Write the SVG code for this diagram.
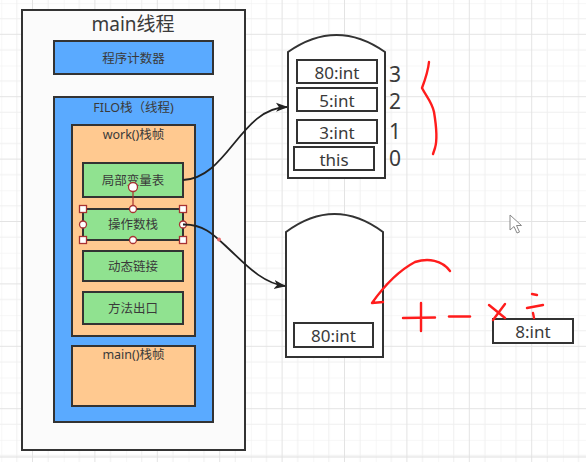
<svg xmlns="http://www.w3.org/2000/svg" width="586" height="462" viewBox="0 0 586 462">
<style>
.t{font-family:"Noto Sans","Noto Sans CJK SC",sans-serif;fill:#3a3a3a;text-anchor:middle;dominant-baseline:central}
.c{font-size:12.5px}
.v{font-size:17px}
.n{font-size:21px}
.box{stroke:#333;stroke-width:2}
.cell{fill:#fff;stroke:#333;stroke-width:2}
.red{fill:none;stroke:#ff1c1c;stroke-width:2.4;stroke-linecap:round;stroke-linejoin:round}
.h{fill:#fff;stroke:#a83232;stroke-width:1.3}
.edge{fill:none;stroke:#222;stroke-width:1.8}
</style>
<defs>
<pattern id="g" patternUnits="userSpaceOnUse" x="1.3" y="3.1" width="62.4" height="62.4">
<path d="M0,0V62.4M15.6,0V62.4M31.2,0V62.4M46.8,0V62.4M0,0H62.4M0,15.6H62.4M0,31.2H62.4M0,46.8H62.4" stroke="#efefef" stroke-width="1" fill="none"/>
<path d="M31.2,0V62.4M0,31.2H62.4" stroke="#e3e3e3" stroke-width="1" fill="none"/>
</pattern>
<marker id="a" viewBox="0 0 12 10" refX="11" refY="5" markerWidth="12" markerHeight="10" markerUnits="userSpaceOnUse" orient="auto">
<path d="M0,0.5 L12,5 L0,9.5 L3,5 Z" fill="#222"/>
</marker>
</defs>
<rect width="586" height="462" fill="#fff"/>
<rect width="586" height="462" fill="url(#g)"/>
<line x1="0" y1="457" x2="586" y2="457" stroke="#e0e0e0" stroke-width="1"/>

<g id="main-thread">
<rect x="22" y="10" width="223" height="440" fill="#fbfbfb" stroke="#333" stroke-width="2"/>
<text class="t" x="133" y="24" font-size="19">main线程</text>
</g>
<g id="pc">
<rect class="box" x="54" y="41" width="159" height="33" fill="#5aaaff"/>
<text class="t c" x="133.5" y="58">程序计数器</text>
</g>
<g id="filo">
<rect class="box" x="54" y="97" width="159" height="325" fill="#5aaaff"/>
<text class="t c" x="133.5" y="107">FILO栈（线程)</text>
</g>
<g id="work-frame">
<rect class="box" x="72" y="125" width="123" height="211" fill="#ffc990"/>
<text class="t c" x="133.5" y="134">work()栈帧</text>
</g>
<g id="local-vars">
<rect class="box" x="83" y="163" width="100" height="34" fill="#90e290"/>
<text class="t c" x="133" y="180">局部变量表</text>
</g>
<g id="operand-stack">
<rect class="box" x="83" y="209" width="100" height="31" fill="#90e290"/>
<text class="t c" x="133" y="224.5">操作数栈</text>
<line x1="133" y1="191" x2="133" y2="206" stroke="#a83232" stroke-width="1.2"/>
<circle class="h" cx="133" cy="187" r="4.5"/>
<rect class="h" x="79.5" y="205.5" width="7" height="7"/>
<rect class="h" x="179.5" y="205.5" width="7" height="7"/>
<rect class="h" x="79.5" y="236.5" width="7" height="7"/>
<rect class="h" x="179.5" y="236.5" width="7" height="7"/>
<circle class="h" cx="133" cy="209" r="3.5"/>
<circle class="h" cx="133" cy="240" r="3.5"/>
<circle class="h" cx="83" cy="224.5" r="3.5"/>
<circle class="h" cx="183" cy="224.5" r="3.5"/>
</g>
<g id="dynamic-link">
<rect class="box" x="83" y="251" width="100" height="30" fill="#90e290"/>
<text class="t c" x="133" y="266">动态链接</text>
</g>
<g id="method-exit">
<rect class="box" x="83" y="292" width="100" height="32" fill="#90e290"/>
<text class="t c" x="133" y="308">方法出口</text>
</g>
<g id="main-frame">
<rect class="box" x="72" y="346" width="123" height="60" fill="#ffc990"/>
<text class="t c" x="133.5" y="354">main()栈帧</text>
</g>

<g id="local-var-table">
<path d="M288,52 Q336.5,18 385,52 L385,178 L288,178 Z" fill="#fff" stroke="#333" stroke-width="2"/>
<rect class="cell" x="297" y="60" width="80" height="23"/>
<text class="t v" x="337" y="72">80:int</text>
<rect class="cell" x="297" y="88" width="80" height="23"/>
<text class="t v" x="337" y="100">5:int</text>
<rect class="cell" x="297" y="120" width="80" height="23"/>
<text class="t v" x="337" y="132">3:int</text>
<rect class="cell" x="294" y="147" width="80" height="23"/>
<text class="t v" x="334" y="159">this</text>
<text class="t n" x="395" y="74">3</text>
<text class="t n" x="395" y="101">2</text>
<text class="t n" x="395" y="131">1</text>
<text class="t n" x="395" y="158">0</text>
</g>

<g id="operand-stack-data">
<path d="M286,232 Q334.5,196 383,232 L383,357 L286,357 Z" fill="#fff" stroke="#333" stroke-width="2"/>
<rect class="cell" x="294" y="323" width="79" height="24"/>
<text class="t v" x="333.5" y="335">80:int</text>
</g>

<g id="value-8">
<rect class="cell" x="493" y="319" width="80" height="24"/>
<text class="t v" x="533" y="331">8:int</text>
</g>

<g id="connectors">
<path class="edge" d="M183,180 C228,178 240,108 287,107" marker-end="url(#a)"/>
<path class="edge" d="M183,224.5 C205,224 215,236 230,250 S262,283 285,286" marker-end="url(#a)"/>
<circle cx="219" cy="239.5" r="2" fill="#e86a6a"/>
</g>

<g id="annotations">
<path class="red" d="M429,62 C428,72 425,80 422,88 C426,96 432,102 434,112 C436,124 438,138 435,148 L433,154"/>
<path class="red" d="M450,271 C442,260 428,258 415,262 C400,270 384,286 372,303 L383,302"/>
<path class="red" d="M403,318 L435,317.5 M421,303 L421,331"/>
<path class="red" d="M449,316.5 L470,316.5"/>
<path class="red" d="M489,305 L505,318 M505,304 L493,320"/>
<path class="red" d="M532,294 L537,295 M527,308 L543,305 M533,313 L534,318"/>
</g>

<path d="M510,215 L510,230 L514,226.5 L517,233 L519.5,232 L516.5,225.5 L521.5,225.5 Z" fill="#fff" stroke="#888" stroke-width="1"/>
</svg>
